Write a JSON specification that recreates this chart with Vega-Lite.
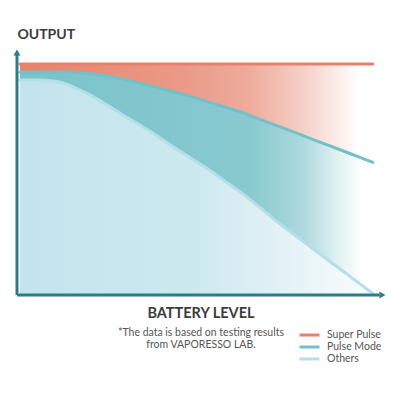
{
  "$schema": "https://vega.github.io/schema/vega-lite/v6.json",
  "width": 368,
  "height": 247,
  "autosize": {"type": "none"},
  "padding": {"left": 17, "top": 48, "right": 15, "bottom": 105},
  "background": "white",
  "config": {"view": {"stroke": null}, "font": "Lato"},
  "title": {
    "text": "BATTERY LEVEL",
    "subtitle": ["*The data is based on testing results", "from VAPORESSO LAB."],
    "orient": "bottom",
    "anchor": "middle",
    "fontSize": 14.5,
    "fontWeight": "bold",
    "color": "#3b3b3b",
    "subtitleFontSize": 10.5,
    "subtitleColor": "#555555",
    "subtitleLineHeight": 12,
    "subtitlePadding": 6,
    "offset": -58
  },
  "datasets": {
    "curves": [
      {"x": 0.8, "Super Pulse": 93.5, "Pulse Mode": 90.3, "Others": 87.0},
      {"x": 6.3, "Super Pulse": 93.5, "Pulse Mode": 90.3, "Others": 87.0},
      {"x": 10.9, "Super Pulse": 93.5, "Pulse Mode": 90.3, "Others": 86.4},
      {"x": 15.2, "Super Pulse": 93.5, "Pulse Mode": 90.2, "Others": 84.3},
      {"x": 19.8, "Super Pulse": 93.5, "Pulse Mode": 89.6, "Others": 81.0},
      {"x": 24.5, "Super Pulse": 93.5, "Pulse Mode": 88.7, "Others": 76.9},
      {"x": 28.8, "Super Pulse": 93.5, "Pulse Mode": 87.4, "Others": 72.9},
      {"x": 33.4, "Super Pulse": 93.5, "Pulse Mode": 85.7, "Others": 68.8},
      {"x": 38.0, "Super Pulse": 93.5, "Pulse Mode": 84.0, "Others": 64.5},
      {"x": 42.4, "Super Pulse": 93.5, "Pulse Mode": 82.3, "Others": 60.0},
      {"x": 47.0, "Super Pulse": 93.5, "Pulse Mode": 80.4, "Others": 55.7},
      {"x": 51.6, "Super Pulse": 93.5, "Pulse Mode": 78.3, "Others": 51.3},
      {"x": 56.0, "Super Pulse": 93.5, "Pulse Mode": 76.3, "Others": 46.6},
      {"x": 60.6, "Super Pulse": 93.5, "Pulse Mode": 74.2, "Others": 41.8},
      {"x": 66.0, "Super Pulse": 93.5, "Pulse Mode": 71.1, "Others": 35.4},
      {"x": 71.5, "Super Pulse": 93.5, "Pulse Mode": 68.1, "Others": 28.7},
      {"x": 76.9, "Super Pulse": 93.5, "Pulse Mode": 65.0, "Others": 22.7},
      {"x": 82.3, "Super Pulse": 93.5, "Pulse Mode": 61.9, "Others": 16.6},
      {"x": 87.8, "Super Pulse": 93.5, "Pulse Mode": 58.8, "Others": 10.5},
      {"x": 93.2, "Super Pulse": 93.5, "Pulse Mode": 55.7, "Others": 4.5},
      {"x": 96.7, "Super Pulse": 93.5, "Pulse Mode": 53.7, "Others": 0.6}
    ],
    "axisLines": [
      {"x": 0, "x2": 0, "y": 0, "y2": 97.5},
      {"x": 0, "x2": 98.5, "y": 0, "y2": 0}
    ],
    "arrowUp": [{"x": 0, "y": 98.2}],
    "arrowRight": [{"x": 99.3, "y": 0}]
  },
  "layer": [
    {
      "data": {"name": "curves"},
      "mark": {
        "type": "area",
        "interpolate": "monotone",
        "fill": {
          "gradient": "linear", "x1": 0, "x2": 1, "y1": 0, "y2": 0,
          "stops": [
            {"offset": 0, "color": "#e8826b"},
            {"offset": 0.45, "color": "#ea9a86"},
            {"offset": 0.65, "color": "#eeab9b"},
            {"offset": 0.8, "color": "#f5cfc6"},
            {"offset": 0.96, "color": "#ffffff"},
            {"offset": 1, "color": "#ffffff"}
          ]
        }
      },
      "encoding": {
        "x": {"field": "x", "type": "quantitative", "scale": {"domain": [0, 100], "nice": false, "zero": false}, "axis": null},
        "y": {"field": "Super Pulse", "type": "quantitative", "scale": {"domain": [0, 100], "nice": false, "zero": false},
          "axis": {"title": "OUTPUT", "titleAngle": 0, "titleAlign": "left", "titleBaseline": "alphabetic", "titleX": 0, "titleY": -10,
            "domain": false, "ticks": false, "labels": false, "grid": false, "titleFontSize": 14, "titleFontWeight": "bold", "titleColor": "#3b3b3b"}},
        "y2": {"field": "Pulse Mode"}
      }
    },
    {
      "data": {"name": "curves"},
      "mark": {
        "type": "area",
        "interpolate": "monotone",
        "fill": {
          "gradient": "linear", "x1": 0, "x2": 1, "y1": 0, "y2": 0,
          "stops": [
            {"offset": 0, "color": "#7ac3ca"},
            {"offset": 0.65, "color": "#88c9cf"},
            {"offset": 0.8, "color": "#acd9dd"},
            {"offset": 0.9, "color": "#e0f1f2"},
            {"offset": 0.97, "color": "#ffffff"},
            {"offset": 1, "color": "#ffffff"}
          ]
        }
      },
      "encoding": {
        "x": {"field": "x", "type": "quantitative"},
        "y": {"field": "Pulse Mode", "type": "quantitative"},
        "y2": {"field": "Others"}
      }
    },
    {
      "data": {"name": "curves"},
      "mark": {
        "type": "area",
        "interpolate": "monotone",
        "fill": {
          "gradient": "linear", "x1": 0, "x2": 1, "y1": 0, "y2": 0,
          "stops": [
            {"offset": 0, "color": "#c3e4ed"},
            {"offset": 0.5, "color": "#cde9f0"},
            {"offset": 0.75, "color": "#e3f2f6"},
            {"offset": 1, "color": "#fafdfe"}
          ]
        }
      },
      "encoding": {
        "x": {"field": "x", "type": "quantitative"},
        "y": {"field": "Others", "type": "quantitative"},
        "y2": {"datum": 0}
      }
    },
    {
      "data": {"name": "curves"},
      "transform": [{"fold": ["Super Pulse", "Pulse Mode", "Others"], "as": ["series", "value"]}],
      "mark": {"type": "line", "interpolate": "monotone", "strokeWidth": 3, "strokeCap": "round"},
      "encoding": {
        "x": {"field": "x", "type": "quantitative"},
        "y": {"field": "value", "type": "quantitative"},
        "color": {
          "field": "series", "type": "nominal",
          "scale": {"domain": ["Super Pulse", "Pulse Mode", "Others"], "range": ["#e8806a", "#72c0c8", "#b5dfe8"]},
          "legend": {
            "orient": "none", "legendX": 281, "legendY": 281, "title": null,
            "symbolType": "stroke", "symbolStrokeWidth": 3, "symbolSize": 400, "clipHeight": 12,
            "labelFontSize": 10.5, "labelColor": "#555555", "rowPadding": 0, "labelOffset": 6
          }
        }
      }
    },
    {
      "data": {"name": "axisLines"},
      "mark": {"type": "rule", "color": "#2b7d88", "strokeWidth": 3},
      "encoding": {
        "x": {"field": "x", "type": "quantitative"},
        "x2": {"field": "x2"},
        "y": {"field": "y", "type": "quantitative"},
        "y2": {"field": "y2"}
      }
    },
    {
      "data": {"name": "arrowUp"},
      "mark": {"type": "point", "shape": "triangle-up", "filled": true, "color": "#2b7d88", "size": 50, "opacity": 1},
      "encoding": {
        "x": {"field": "x", "type": "quantitative"},
        "y": {"field": "y", "type": "quantitative"}
      }
    },
    {
      "data": {"name": "arrowRight"},
      "mark": {"type": "point", "shape": "triangle-right", "filled": true, "color": "#2b7d88", "size": 50, "opacity": 1},
      "encoding": {
        "x": {"field": "x", "type": "quantitative"},
        "y": {"field": "y", "type": "quantitative"}
      }
    }
  ]
}
